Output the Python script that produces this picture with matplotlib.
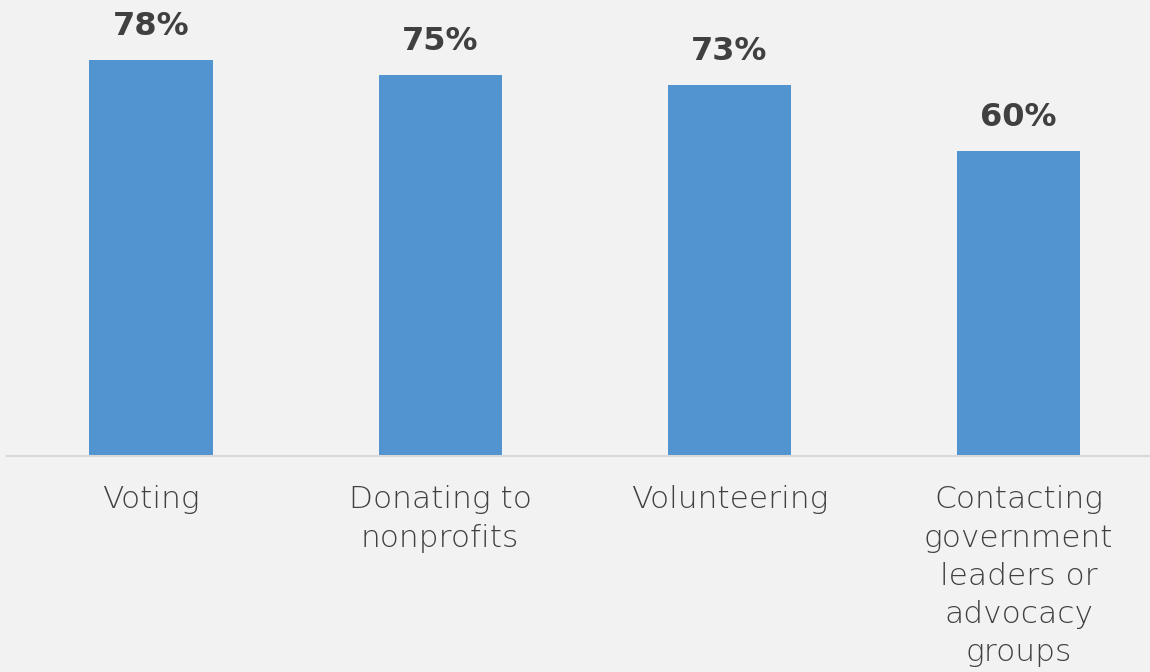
import matplotlib
matplotlib.use("Agg")
import matplotlib.pyplot as plt

# Survey results: share of respondents by activity
categories = ["Voting", "Donating to\nnonprofits", "Volunteering",
              "Contacting\ngovernment\nleaders or\nadvocacy\ngroups"]
values = [78, 75, 73, 60]
value_labels = ["78%", "75%", "73%", "60%"]

bg = "#f2f2f2"
bar_color = "#5194cf"

fig = plt.figure(figsize=(11.5, 6.72), dpi=100, facecolor=bg)
ax = fig.add_axes([0.0065, 0.3214, 0.9935, 0.6786])
ax.set_facecolor(bg)

x = list(range(len(values)))
ax.bar(x, values, width=0.426, color=bar_color, zorder=2)

for xi, v, lab in zip(x, values, value_labels):
    ax.text(xi, v + 4.9, lab, ha="center", va="baseline", fontsize=23,
            fontweight="bold", color="#404040", family="DejaVu Sans",
            clip_on=False)

for xi, cat in zip(x, categories):
    ax.text(xi, -5.8, cat, ha="center", va="top", fontsize=22.5,
            color="#404040", family="DejaVu Sans", fontweight="light",
            linespacing=1.4, clip_on=False)

ax.set_xlim(-0.4965, 3.455)
ax.set_ylim(0, 89.8)
ax.set_xticks([])
ax.set_yticks([])
for side in ["top", "right", "left"]:
    ax.spines[side].set_visible(False)
ax.spines["bottom"].set_color("#d9d9d9")
ax.spines["bottom"].set_linewidth(1.5)

fig.savefig("out.png", dpi=100, facecolor=bg)
